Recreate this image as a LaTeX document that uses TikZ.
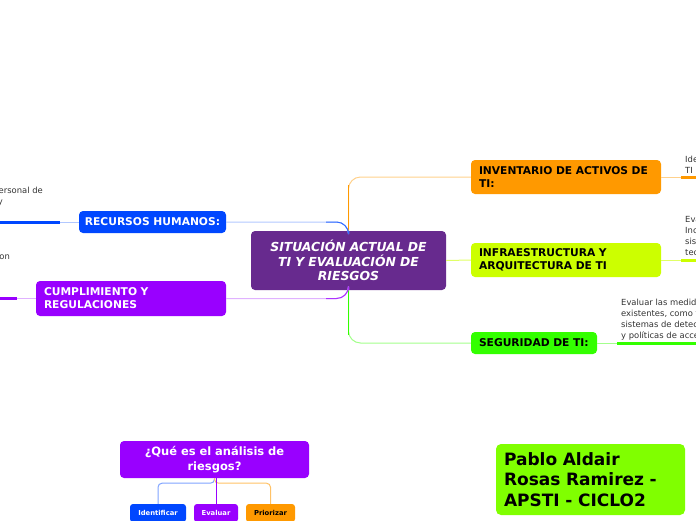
\documentclass[tikz,border=0pt]{standalone}
\usepackage{fontspec}
\setmainfont{DejaVu Sans}
\definecolor{cpurple}{HTML}{672A8E}
\definecolor{corange}{HTML}{FF9900}
\definecolor{cyellow}{HTML}{CCFF00}
\definecolor{cgreen}{HTML}{33FF00}
\definecolor{cblue}{HTML}{0047FF}
\definecolor{cviolet}{HTML}{9900FF}
\definecolor{clime}{HTML}{80FF00}
\begin{document}
\begin{tikzpicture}[x=1pt,y=-1pt,
  box/.style={rounded corners=4pt, inner xsep=8pt, inner ysep=0pt, align=left,
    font=\bfseries\fontsize{10.7}{13}\selectfont},
  kid/.style={rounded corners=3pt, inner sep=0pt, minimum height=18pt, align=center,
    font=\bfseries\fontsize{6.8}{8}\selectfont},
  leaf/.style={font=\fontsize{8.4}{11}\selectfont, inner sep=0pt, text=black!80},
  link/.style={line width=1pt},
  under/.style={line width=3pt},
]
\useasboundingbox (0,0) rectangle (696,520);
\clip (0,0) rectangle (696,520);

% main nodes
\node[box, fill=cpurple, text=white, align=center, text width=179pt, minimum height=59pt,
  font=\bfseries\itshape\fontsize{12.4}{14.5}\selectfont] (c) at (348.5,260.5)
  {SITUACIÓN ACTUAL DE\\TI Y EVALUACIÓN DE\\RIESGOS};
\node[box, fill=corange, text width=174pt, minimum height=34pt] (inv) at (566,177)
  {INVENTARIO DE ACTIVOS DE\\TI:};
\node[box, fill=cyellow, text width=174pt, minimum height=34pt] (inf) at (566,260)
  {INFRAESTRUCTURA Y\\ARQUITECTURA DE TI};
\node[box, fill=cgreen, text width=110pt, minimum height=22pt] (seg) at (534,343)
  {SEGURIDAD DE TI:};
\node[box, fill=cblue, text=white, align=center, inner xsep=0pt, minimum width=147pt,
  minimum height=22pt] (rh) at (152.5,222)
  {RECURSOS HUMANOS:};
\node[box, fill=cviolet, text=white, text width=174pt, minimum height=35pt] (cum) at (131,298.5)
  {CUMPLIMIENTO Y\\REGULACIONES};

% main connectors
\draw[link, corange!45, rounded corners=12pt] (c.north) |- (inv.west);
\draw[line width=1.6pt, corange, shorten >=8pt] (c.north) -- (c.north |- inv.west);
\draw[link, cgreen!45, rounded corners=12pt] (c.south) |- (seg.west);
\draw[line width=1.6pt, cgreen, shorten >=8pt] (c.south) -- (c.south |- seg.west);
\draw[link, cyellow!60] (c.east) -- (inf.west);
\draw[link, cblue!30, rounded corners=12pt] (c.north) |- (rh.east);
\draw[link, cblue!80, rounded corners=12pt, shorten >=100pt] (c.north) |- (rh.east);
\draw[link, cviolet!30, rounded corners=12pt] (c.south) |- (cum.east);
\draw[link, cviolet!80, rounded corners=12pt, shorten >=100pt] (c.south) |- (cum.east);

% leaf texts
\node[leaf, anchor=south west, align=left] (tinv) at (685,174)
  {Identificar y catalogar los activos de\\TI};
\node[leaf, anchor=south west, align=left] (tinf) at (685,257)
  {Evaluar la infraestructura de TI,\\Incluyendo hardware, software,\\sistemas operativos, redes y\\tecnologías utilizadas.};
\node[leaf, anchor=south west, align=left] (tseg) at (621,340)
  {Evaluar las medidas de seguridad\\existentes, como firewalls, antivirus,\\sistemas de detección de intrusiones\\y políticas de acceso.};
\node[leaf, anchor=south east, align=right] (trh) at (43,206)
  {Evaluar las habilidades del personal de\\TI, su formación y\hspace*{40pt}};
\node[leaf, anchor=south east, align=right] (tcum) at (10,261)
  {Evaluar si la organización cumple con};

% leaf connectors
\coordinate (invA) at (681,177); \coordinate (invB) at (700,177);
\coordinate (infA) at (681,260); \coordinate (infB) at (700,260);
\coordinate (segA) at (617,343); \coordinate (segB) at (700,343);
\coordinate (rhA) at (60,222);   \coordinate (rhB) at (-5,222);
\coordinate (cumA) at (17,298.5); \coordinate (cumB) at (-5,298.5);
\draw[link, corange!45] (inv.east) -- (invA);
\draw[under, corange] (invA) -- (invB);
\draw[link, cyellow!60] (inf.east) -- (infA);
\draw[under, cyellow] (infA) -- (infB);
\draw[link, cgreen!45] (seg.east) -- (segA);
\draw[under, cgreen] (segA) -- (segB);
\draw[link, cblue!30] (rh.west) -- (rhA);
\draw[under, cblue] (rhA) -- (rhB);
\draw[link, cviolet!30] (cum.west) -- (cumA);
\draw[under, cviolet] (cumA) -- (cumB);

% question
\node[box, fill=cviolet, text=white, align=center, text width=173pt, minimum height=37pt,
  font=\bfseries\fontsize{11.5}{15}\selectfont] (q) at (214.5,459.5)
  {¿Qué es el análisis de\\riesgos?};
\node[kid, fill=cblue, text=white, minimum width=56pt] (id) at (158,513) {Identificar};
\node[kid, fill=cviolet, text=white, minimum width=44pt] (ev) at (216,513) {Evaluar};
\node[kid, fill=corange, minimum width=49pt] (pr) at (270.5,513) {Priorizar};
\coordinate (qj) at ([yshift=-5pt]q.south);
\draw[link, cblue!50, rounded corners=4pt] (q.south) -- (qj) -| (id.north);
\draw[link, corange!60, rounded corners=4pt] (q.south) -- (qj) -| (pr.north);
\draw[link, cviolet] (q.south -| ev.north) -- (ev.north);

% author
\node[box, fill=clime, rounded corners=5pt, text width=173pt, minimum height=71pt,
  font=\bfseries\fontsize{17}{20.5}\selectfont] (au) at (590.5,479.5)
  {Pablo Aldair\\Rosas Ramirez -\\APSTI - CICLO2};
\end{tikzpicture}
\end{document}
